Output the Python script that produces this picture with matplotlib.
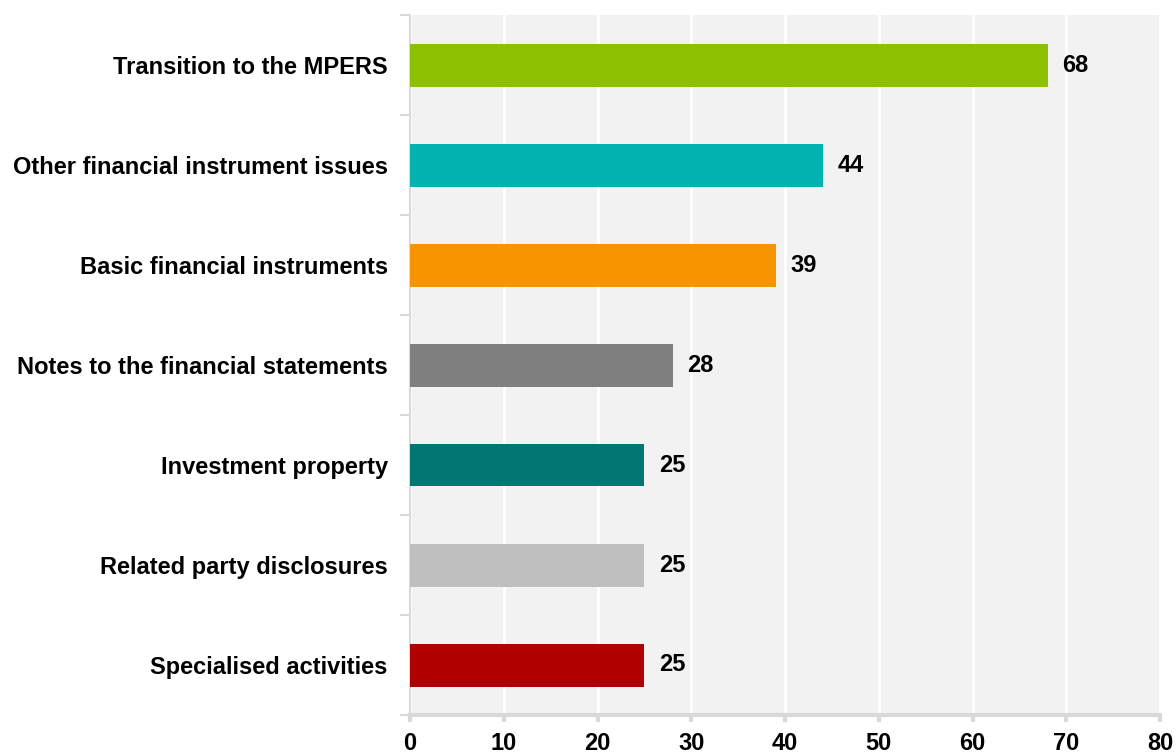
import matplotlib
matplotlib.use('Agg')
import matplotlib.pyplot as plt
import numpy as np

# Topics ranked by number of responses (top to bottom)
categories = [
    "Transition to the MPERS",
    "Other financial instrument issues",
    "Basic financial instruments",
    "Notes to the financial statements",
    "Investment property",
    "Related party disclosures",
    "Specialised activities",
]
values = [68, 44, 39, 28, 25, 25, 25]
bar_colors = ["#8dc000", "#00b2b0", "#f79500", "#7f7f7f", "#007672", "#bfbfbf", "#b00000"]
x_ticks = [0, 10, 20, 30, 40, 50, 60, 70, 80]

plt.rcParams['font.family'] = ['Liberation Sans', 'DejaVu Sans']
plt.rcParams['font.weight'] = 'bold'

fig = plt.figure(figsize=(11.76, 7.53), dpi=100)
ax = fig.add_axes([410 / 1176, 38 / 753, 750 / 1176, 700 / 753])
ax.set_facecolor("#f2f2f2")

y = np.arange(len(categories))
ax.barh(y, values, height=0.43, color=bar_colors, zorder=3)

for yi, v in zip(y, values):
    ax.text(v + 1.6, yi, f"{v}", va="center", ha="left",
            fontsize=17, fontweight="bold", color="black", zorder=4)

ax.set_xlim(0, 80)
ax.set_ylim(len(categories) - 0.5, -0.5)
ax.set_xticks(x_ticks)
ax.set_xticklabels([str(t) for t in x_ticks], fontsize=17, fontweight="bold")
ax.set_yticks(y)
ax.set_yticklabels(categories, fontsize=17, fontweight="bold")
ax.set_yticks(np.arange(-0.5, len(categories)), minor=True)

ax.xaxis.grid(True, color="white", linewidth=2, zorder=1)
ax.set_axisbelow(True)

spine_color = "#d9d9d9"
for side in ("top", "right"):
    ax.spines[side].set_visible(False)
ax.spines["left"].set_color(spine_color)
ax.spines["left"].set_linewidth(1.5)
ax.spines["bottom"].set_color(spine_color)
ax.spines["bottom"].set_linewidth(3)

ax.tick_params(axis="y", which="major", length=0, pad=16)
ax.tick_params(axis="y", which="minor", length=7, width=1.5, color=spine_color)
ax.tick_params(axis="x", which="major", length=5, width=3, color=spine_color, pad=7)

fig.savefig("out.png", dpi=100)
